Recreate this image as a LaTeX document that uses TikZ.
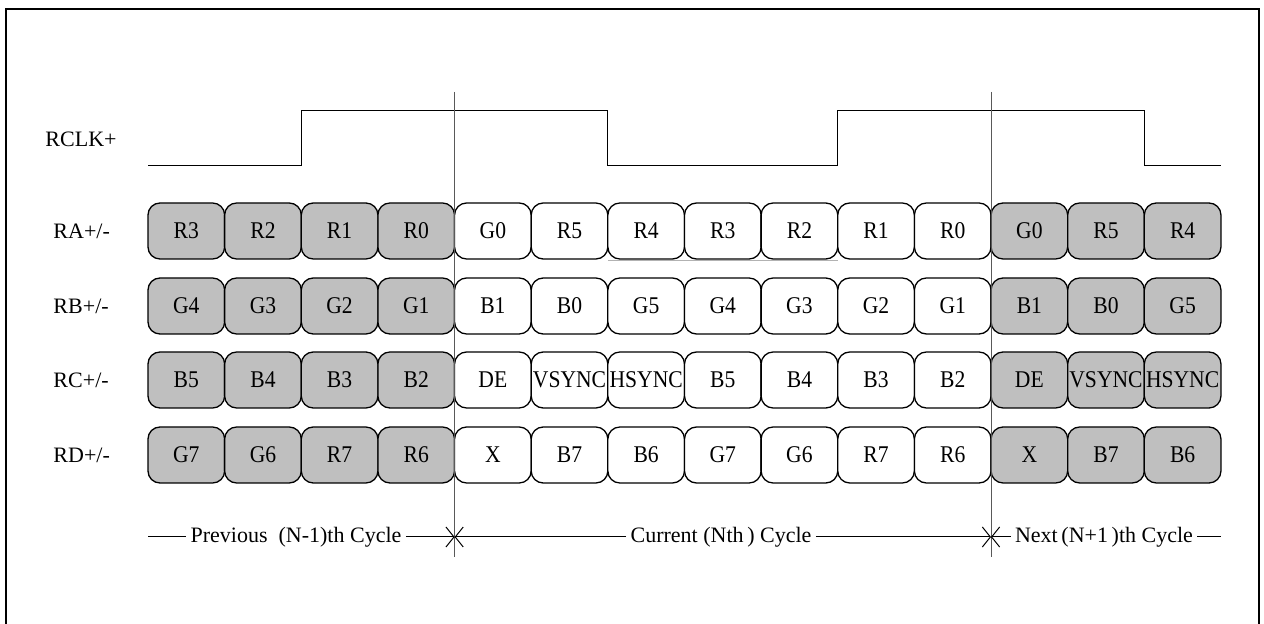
\documentclass[tikz,border=0pt]{standalone}
\usepackage{fontspec}
\setmainfont{Liberation Serif}
\newfontfamily\slotfont[FakeStretch=0.9]{Liberation Serif}
\usetikzlibrary{arrows.meta}

\tikzset{
	slot/.style = {draw, line width=.65pt, rounded corners=6pt, minimum width=38.32pt, minimum height=28pt, inner sep=0pt, font=\slotfont\fontsize{12}{14}\selectfont},
	shade0/.style = {fill=white},
	shade1/.style = {fill=gray!50},
	sig/.style = {anchor=west, inner sep=0pt, font=\fontsize{11}{13}\selectfont},
	cyc/.style = {inner sep=2pt, font=\fontsize{11}{13}\selectfont},
	span/.style = {-{Straight Barb[length=4pt,width=10pt]}},
	bound/.style = {draw=black!65, line width=.5pt}
}

\begin{document}
\begin{tikzpicture}[x=.5pt, y=-.5pt, line width=.5pt]
		\useasboundingbox (0,0) rectangle (1264,624);
		% frame
		\draw [line width=1.3pt] (6,640) -- (6,9) -- (1259,9) -- (1259,640);
		
		% signal names
		\node [sig] (clk) at (45,139) {RCLK+};
		\node [sig] (ra) at (53,231) {RA+/-};
		\node [sig] (rb) at (53,306) {RB+/-};
		\node [sig] (rc) at (53,380) {RC+/-};
		\node [sig] (rd) at (53,455) {RD+/-};
		
		% clock
		\draw (148,166) -- (301.3,166) -- (301.3,111) -- (607.8,111) -- (607.8,166) -- (837.7,166) -- (837.7,111) -- (1144.3,111) -- (1144.3,166) -- (1221,166);
		
		% data slots
		\foreach \row/\y/\bits in {
			ra/231/{R3,R2,R1,R0,G0,R5,R4,R3,R2,R1,R0,G0,R5,R4},
			rb/306/{G4,G3,G2,G1,B1,B0,G5,G4,G3,G2,G1,B1,B0,G5},
			rc/380/{B5,B4,B3,B2,DE,VSYNC,HSYNC,B5,B4,B3,B2,DE,VSYNC,HSYNC},
			rd/455/{G7,G6,R7,R6,X,B7,B6,G7,G6,R7,R6,X,B7,B6}} {
			\foreach \t [count=\i] in \bits {
				\pgfmathtruncatemacro\old{or(\i<5,\i>11)}
				\node [slot, shade\old] (\row\i) at (109.68+76.64*\i,\y) {\t};
			}
		}
		\draw [gray!60, line width=.4pt] (607.8,260) -- (837.7,260);
		
		% cycle boundaries
		\coordinate (b1top) at (454.6,92);
		\coordinate (b1bot) at (454.6,557);
		\coordinate (b1mid) at (454.6,537);
		\coordinate (b2top) at (991,92);
		\coordinate (b2bot) at (991,557);
		\coordinate (b2mid) at (991,537);
		\draw [bound] (b1top) -- (b1bot);
		\draw [bound] (b2top) -- (b2bot);
		
		% cycle labels
		\coordinate (c0) at (148,537);
		\coordinate (c3) at (1221,537);
		\node [cyc] (prev) at (296,537) {Previous\ \ (N-1)th Cycle};
		\node [cyc] (cur) at (721,537) {Current (Nth\,) Cycle};
		\node [cyc] (next) at (1104,537) {Next\,(N+1\,)th Cycle};
		\draw (c0) -- (prev.west);
		\draw [span] (prev.east) -- (b1mid);
		\draw [span] (cur.west) -- (b1mid);
		\draw [span] (cur.east) -- (b2mid);
		\draw [span] (next.west) -- (b2mid);
		\draw (next.east) -- (c3);
		
		\end{tikzpicture}
\end{document}
